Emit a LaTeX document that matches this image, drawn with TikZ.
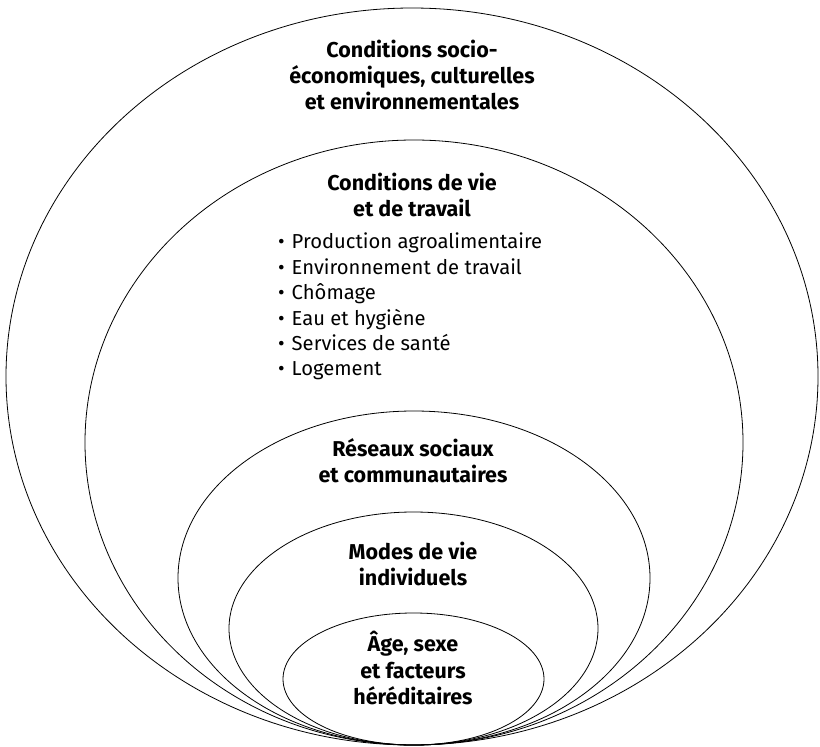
\documentclass[tikz,border=0pt]{standalone}
\usepackage{fontspec}
\setmainfont{Fira Sans}
\begin{document}
\begin{tikzpicture}[x=1pt,y=-1pt,
  ring/.style={draw=black,line width=0.8pt},
  title/.style={align=center,font=\fontsize{21.5}{26.3}\selectfont\bfseries,inner sep=0pt},
  items/.style={align=left,font=\fontsize{20.2}{25.4}\selectfont,inner sep=0pt}]
\useasboundingbox (0,0) rectangle (820,747);
% nested ellipses, all resting on a common base point
\draw[ring] (412,376.5) ellipse [x radius=406,y radius=368.5];
\draw[ring] (414,442.5) ellipse [x radius=329,y radius=302.5];
\draw[ring] (414,578) ellipse [x radius=236,y radius=167];
\draw[ring] (413.5,628.5) ellipse [x radius=184.5,y radius=116.5];
\draw[ring] (413.5,679) ellipse [x radius=130.5,y radius=66];
% labels
\node[title] (socio) at (412,75) {Conditions socio-\\économiques, culturelles\\et environnementales};
\node[title] (vie) at (412,195) {Conditions de vie\\et de travail};
\node[items,anchor=north west] (liste) at (278,233) {\textbullet\hspace{7pt}Production agroalimentaire\\
\textbullet\hspace{7pt}Environnement de travail\\
\textbullet\hspace{7pt}Chômage\\
\textbullet\hspace{7pt}Eau et hygiène\\
\textbullet\hspace{7pt}Services de santé\\
\textbullet\hspace{7pt}Logement};
\node[title] (reseaux) at (413,461) {Réseaux sociaux\\et communautaires};
\node[title] (modes) at (413,564) {Modes de vie\\individuels};
\node[title] (age) at (413,668) {Âge, sexe\\et facteurs\\héréditaires};
\end{tikzpicture}
\end{document}
